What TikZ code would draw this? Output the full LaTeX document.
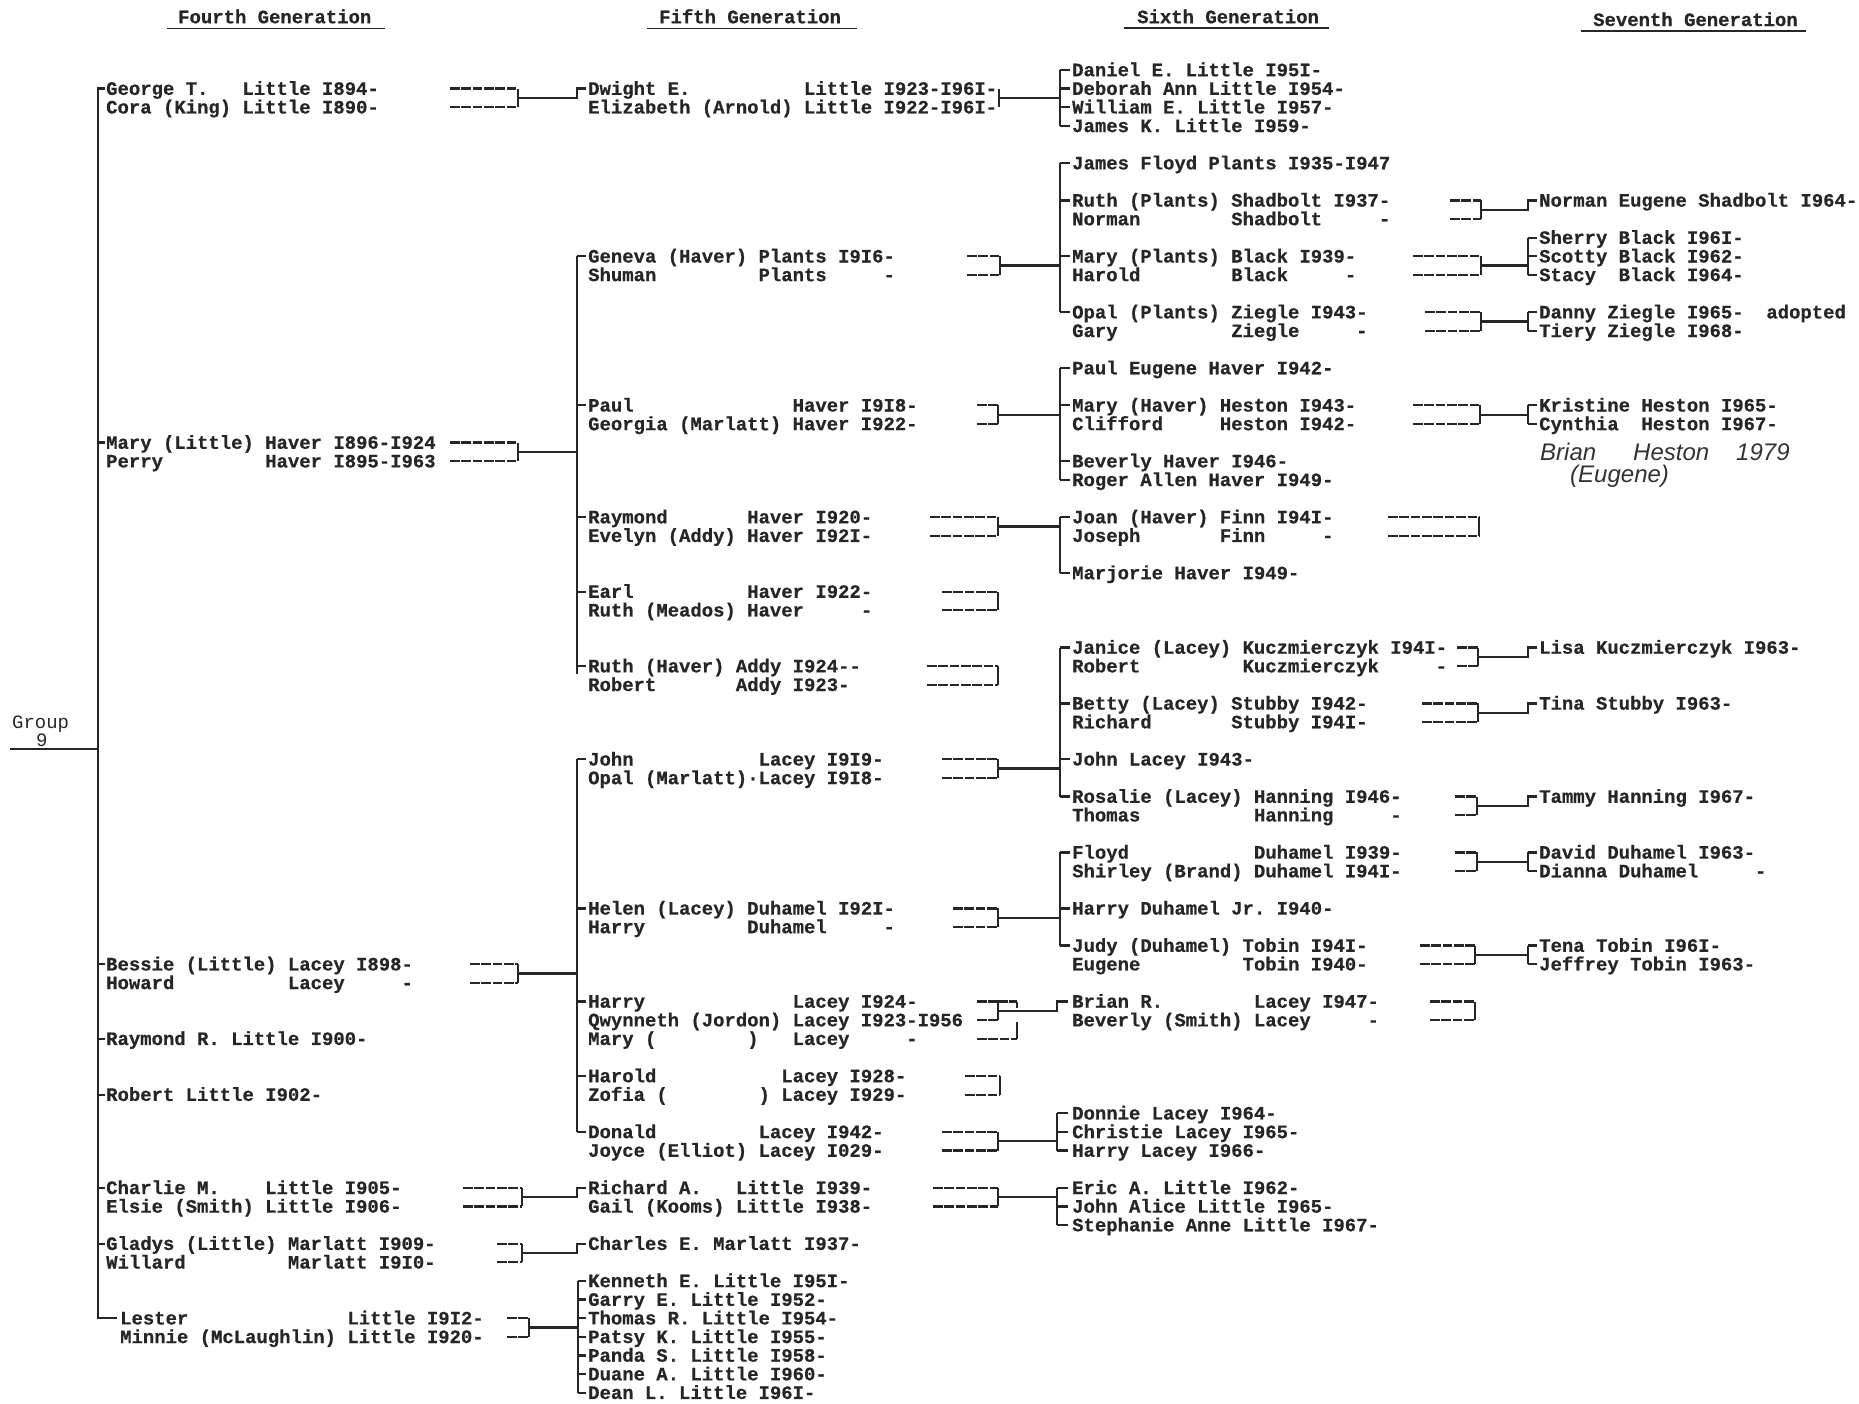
\documentclass[tikz,border=0pt]{standalone}
\usepackage{fontspec}
\newfontfamily\tw[BoldFeatures={FakeBold=0.6}]{Liberation Mono}
\newfontfamily\hand{Liberation Sans}
\definecolor{ink}{HTML}{262626}
\newcommand\R[1]{(70+18.63*(#1))}
\newcommand\SP[1]{\hspace*{#1\fontcharwd\font`0}}
\newcommand\T[4]{\node[txt] (#1) at (#2,{\R{#3}+6.2}) {#4};}
% bracket: dash start, vertical x, top row, bottom row
\newcommand\BR[4]{\draw[dsh] (#1,{\R{#3}}) -- (#2,{\R{#3}});
  \draw[dsh] (#1,{\R{#4}}) -- (#2,{\R{#4}});
  \draw[ln] (#2,{\R{#3}}) -- (#2,{\R{#4}});}
% kids: vertical x, tick end x, top row, bottom row, rows
\newcommand\KIDS[5]{\draw[ln] (#1,{\R{#3}}) -- (#1,{\R{#4}});
  \foreach \k in {#5} {\draw[ln] (#1,{\R{\k}}) -- (#2,{\R{\k}});}}
% link: from x, to x, row (mid)
\newcommand\LINK[3]{\draw[ln] (#1,{\R{#3}}) -- (#2,{\R{#3}});}
% single child: from x, vertical x, tick end, mid row, child row
\newcommand\ONE[5]{\draw[ln] (#1,{\R{#4}}) -- (#2,{\R{#4}}) -- (#2,{\R{#5}}) -- (#3,{\R{#5}});}
\tikzset{
  txt/.style={anchor=base west, inner sep=0pt, text=ink,
    font=\tw\bfseries\fontsize{18.93}{20}\selectfont},
  hdr/.style={txt},
  lbl/.style={anchor=base west, inner sep=0pt, text=ink,
    font=\tw\fontsize{18.93}{20}\selectfont},
  hw/.style={anchor=base west, inner sep=0pt, text=black!80,
    font=\hand\itshape\fontsize{24}{26}\selectfont},
  ln/.style={draw=ink, line width=2.3pt, line join=miter},
  dsh/.style={draw=ink, line width=2.3pt, dash pattern=on 9.5pt off 1.86pt},
  ul/.style={draw=ink, line width=1.8pt}
}
\begin{document}
\frenchspacing
\begin{tikzpicture}[x=1pt,y=-1pt]
\useasboundingbox (0,0) rectangle (1859,1403);
\fill[white] (0,0) rectangle (1859,1403);

% headers
\node[hdr] (h4) at (178,23.2) {Fourth Generation};
\node[hdr] (h5) at (659,23.2) {Fifth Generation};
\node[hdr] (h6) at (1137,23.2) {Sixth Generation};
\node[hdr] (h7) at (1593,26) {Seventh Generation};
\draw[ul] (167,28.5) -- (385,28.5);
\draw[ul] (647,28.5) -- (857,28.5);
\draw[ul] (1124,28) -- (1329,28);
\draw[ul] (1581,31) -- (1806,31);

% group label
\node[lbl] (grp) at (12,728) {Group};
\node[lbl] (g9) at (36,746) {9};
\draw[ln] (10,749) -- (98,749);

% main vertical (4th generation)
\draw[ln] (105,{\R{1}}) -- (98,{\R{1}}) -- (98,{\R{67}}) -- (117,{\R{67}});
\foreach \k in {20,48,52,55,60,63} {\draw[ln] (98,{\R{\k}}) -- (105,{\R{\k}});}

% 4th generation
\T{a1}{106}{1}{George T.\SP{3}Little I894-}
\T{a2}{106}{2}{Cora (King) Little I890-}
\T{a20}{106}{20}{Mary (Little) Haver I896-I924}
\T{a21}{106}{21}{Perry\SP{9}Haver I895-I963}
\T{a48}{106}{48}{Bessie (Little) Lacey I898-}
\T{a49}{106}{49}{Howard\SP{10}Lacey\SP{5}-}
\T{a52}{106}{52}{Raymond R. Little I900-}
\T{a55}{106}{55}{Robert Little I902-}
\T{a60}{106}{60}{Charlie M.\SP{4}Little I905-}
\T{a61}{106}{61}{Elsie (Smith) Little I906-}
\T{a63}{106}{63}{Gladys (Little) Marlatt I909-}
\T{a64}{106}{64}{Willard\SP{9}Marlatt I9I0-}
\T{a67}{120}{67}{Lester\SP{14}Little I9I2-}
\T{a68}{120}{68}{Minnie (McLaughlin) Little I920-}

% 4th -> 5th brackets
\BR{450}{518}{1}{2}
\ONE{518}{577}{586}{1.5}{1}
\BR{450}{518}{20}{21}
\LINK{518}{577}{20.5}
\KIDS{577}{586}{10}{32.4}{10,18,24,28,32}
\BR{470}{518}{48}{49}
\LINK{518}{577}{48.5}
\KIDS{577}{586}{37}{57}{37,45,50,54,57}
\BR{463}{522}{60}{61}
\ONE{522}{577}{586}{60.5}{60}
\BR{497}{522}{63}{64}
\ONE{522}{577}{586}{63.5}{63}
\BR{507}{529}{67}{68}
\LINK{529}{578}{67.5}
\KIDS{578}{586}{65}{71}{65,66,67,68,69,70,71}

% 5th generation
\T{b1}{588}{1}{Dwight E.\SP{10}Little I923-I96I-}
\T{b2}{588}{2}{Elizabeth (Arnold) Little I922-I96I-}
\T{b10}{588}{10}{Geneva (Haver) Plants I9I6-}
\T{b11}{588}{11}{Shuman\SP{9}Plants\SP{5}-}
\T{b18}{588}{18}{Paul\SP{14}Haver I9I8-}
\T{b19}{588}{19}{Georgia (Marlatt) Haver I922-}
\T{b24}{588}{24}{Raymond\SP{7}Haver I920-}
\T{b25}{588}{25}{Evelyn (Addy) Haver I92I-}
\T{b28}{588}{28}{Earl\SP{10}Haver I922-}
\T{b29}{588}{29}{Ruth (Meados) Haver\SP{5}-}
\T{b32}{588}{32}{Ruth (Haver) Addy I924--}
\T{b33}{588}{33}{Robert\SP{7}Addy I923-}
\T{b37}{588}{37}{John\SP{11}Lacey I9I9-}
\T{b38}{588}{38}{Opal (Marlatt)·Lacey I9I8-}
\T{b45}{588}{45}{Helen (Lacey) Duhamel I92I-}
\T{b46}{588}{46}{Harry\SP{9}Duhamel\SP{5}-}
\T{b50}{588}{50}{Harry\SP{13}Lacey I924-}
\T{b51}{588}{51}{Qwynneth (Jordon) Lacey I923-I956}
\T{b52}{588}{52}{Mary (\SP{8})\SP{3}Lacey\SP{5}-}
\T{b54}{588}{54}{Harold\SP{11}Lacey I928-}
\T{b55}{588}{55}{Zofia (\SP{8}) Lacey I929-}
\T{b57}{588}{57}{Donald\SP{9}Lacey I942-}
\T{b58}{588}{58}{Joyce (Elliot) Lacey I029-}
\T{b60}{588}{60}{Richard A.\SP{3}Little I939-}
\T{b61}{588}{61}{Gail (Kooms) Little I938-}
\T{b63}{588}{63}{Charles E. Marlatt I937-}
\T{b65}{588}{65}{Kenneth E. Little I95I-}
\T{b66}{588}{66}{Garry E. Little I952-}
\T{b67}{588}{67}{Thomas R. Little I954-}
\T{b68}{588}{68}{Patsy K. Little I955-}
\T{b69}{588}{69}{Panda S. Little I958-}
\T{b70}{588}{70}{Duane A. Little I960-}
\T{b71}{588}{71}{Dean L. Little I96I-}

% 5th -> 6th brackets
\draw[ln] (999,{\R{1}}) -- (999,{\R{2}});
\LINK{999}{1060}{1.5}
\KIDS{1060}{1070}{0}{3}{0,1,2,3}
\BR{967}{1000}{10}{11}
\LINK{1000}{1060}{10.5}
\KIDS{1060}{1070}{5}{13}{5,7,10,13}
\BR{977}{998}{18}{19}
\LINK{998}{1060}{18.5}
\KIDS{1060}{1070}{16}{22}{16,18,21,22}
\BR{930}{998}{24}{25}
\LINK{998}{1060}{24.5}
\KIDS{1060}{1070}{24}{27}{24,27}
\BR{942}{998}{28}{29}
\BR{927}{998}{32}{33}
\BR{942}{998}{37}{38}
\LINK{998}{1060}{37.5}
\KIDS{1060}{1070}{31}{39}{31,34,37,39}
\BR{953}{998}{45}{46}
\LINK{998}{1060}{45.5}
\KIDS{1060}{1070}{42}{47}{42,45,47}
% Harry / Qwynneth / Mary
\BR{977}{998}{50}{51}
\draw[dsh] (998,{\R{50}}) -- (1017,{\R{50}});
\draw[dsh] (977,{\R{52}}) -- (1017,{\R{52}});
\draw[ln] (1017,{\R{50}}) -- (1017,{\R{50.35}});
\draw[ln] (1017,{\R{51.1}}) -- (1017,{\R{52}});
\ONE{998}{1057}{1068}{50.5}{50}
\BR{965}{1000}{54}{55}
\BR{942}{998}{57}{58}
\LINK{998}{1057}{57.5}
\KIDS{1057}{1068}{56}{58}{56,57,58}
\BR{933}{998}{60}{61}
\LINK{998}{1057}{60.5}
\KIDS{1057}{1068}{60}{62}{60,61,62}

% 6th generation
\T{c0}{1072}{0}{Daniel E. Little I95I-}
\T{c1}{1072}{1}{Deborah Ann Little I954-}
\T{c2}{1072}{2}{William E. Little I957-}
\T{c3}{1072}{3}{James K. Little I959-}
\T{c5}{1072}{5}{James Floyd Plants I935-I947}
\T{c7}{1072}{7}{Ruth (Plants) Shadbolt I937-}
\T{c8}{1072}{8}{Norman\SP{8}Shadbolt\SP{5}-}
\T{c10}{1072}{10}{Mary (Plants) Black I939-}
\T{c11}{1072}{11}{Harold\SP{8}Black\SP{5}-}
\T{c13}{1072}{13}{Opal (Plants) Ziegle I943-}
\T{c14}{1072}{14}{Gary\SP{10}Ziegle\SP{5}-}
\T{c16}{1072}{16}{Paul Eugene Haver I942-}
\T{c18}{1072}{18}{Mary (Haver) Heston I943-}
\T{c19}{1072}{19}{Clifford\SP{5}Heston I942-}
\T{c21}{1072}{21}{Beverly Haver I946-}
\T{c22}{1072}{22}{Roger Allen Haver I949-}
\T{c24}{1072}{24}{Joan (Haver) Finn I94I-}
\T{c25}{1072}{25}{Joseph\SP{7}Finn\SP{5}-}
\T{c27}{1072}{27}{Marjorie Haver I949-}
\T{c31}{1072}{31}{Janice (Lacey) Kuczmierczyk I94I-}
\T{c32}{1072}{32}{Robert\SP{9}Kuczmierczyk\SP{5}-}
\T{c34}{1072}{34}{Betty (Lacey) Stubby I942-}
\T{c35}{1072}{35}{Richard\SP{7}Stubby I94I-}
\T{c37}{1072}{37}{John Lacey I943-}
\T{c39}{1072}{39}{Rosalie (Lacey) Hanning I946-}
\T{c40}{1072}{40}{Thomas\SP{10}Hanning\SP{5}-}
\T{c42}{1072}{42}{Floyd\SP{11}Duhamel I939-}
\T{c43}{1072}{43}{Shirley (Brand) Duhamel I94I-}
\T{c45}{1072}{45}{Harry Duhamel Jr. I940-}
\T{c47}{1072}{47}{Judy (Duhamel) Tobin I94I-}
\T{c48}{1072}{48}{Eugene\SP{9}Tobin I940-}
\T{c50}{1072}{50}{Brian R.\SP{8}Lacey I947-}
\T{c51}{1072}{51}{Beverly (Smith) Lacey\SP{5}-}
\T{c56}{1072}{56}{Donnie Lacey I964-}
\T{c57}{1072}{57}{Christie Lacey I965-}
\T{c58}{1072}{58}{Harry Lacey I966-}
\T{c60}{1072}{60}{Eric A. Little I962-}
\T{c61}{1072}{61}{John Alice Little I965-}
\T{c62}{1072}{62}{Stephanie Anne Little I967-}

% 6th -> 7th brackets
\BR{1450}{1481}{7}{8}
\ONE{1481}{1528}{1537}{7.5}{7}
\BR{1413}{1481}{10}{11}
\LINK{1481}{1528}{10.5}
\KIDS{1528}{1537}{9}{11}{9,10,11}
\BR{1425}{1481}{13}{14}
\LINK{1481}{1528}{13.5}
\KIDS{1528}{1537}{13}{14}{13,14}
\BR{1413}{1480}{18}{19}
\LINK{1480}{1528}{18.5}
\KIDS{1528}{1537}{18}{19}{18,19}
\BR{1388}{1479}{24}{25}
\BR{1457}{1478}{31}{32}
\ONE{1478}{1528}{1537}{31.5}{31}
\BR{1422}{1478}{34}{35}
\ONE{1478}{1528}{1537}{34.5}{34}
\BR{1455}{1477}{39}{40}
\ONE{1477}{1528}{1537}{39.5}{39}
\BR{1455}{1477}{42}{43}
\LINK{1477}{1528}{42.5}
\KIDS{1528}{1537}{42}{43}{42,43}
\BR{1420}{1475}{47}{48}
\LINK{1475}{1528}{47.5}
\KIDS{1528}{1537}{47}{48}{47,48}
\BR{1430}{1475}{50}{51}

% 7th generation
\T{d7}{1539}{7}{Norman Eugene Shadbolt I964-}
\T{d9}{1539}{9}{Sherry Black I96I-}
\T{d10}{1539}{10}{Scotty Black I962-}
\T{d11}{1539}{11}{Stacy\SP{2}Black I964-}
\T{d13}{1539}{13}{Danny Ziegle I965-\SP{2}adopted}
\T{d14}{1539}{14}{Tiery Ziegle I968-}
\T{d18}{1539}{18}{Kristine Heston I965-}
\T{d19}{1539}{19}{Cynthia\SP{2}Heston I967-}
\T{d31}{1539}{31}{Lisa Kuczmierczyk I963-}
\T{d34}{1539}{34}{Tina Stubby I963-}
\T{d39}{1539}{39}{Tammy Hanning I967-}
\T{d42}{1539}{42}{David Duhamel I963-}
\T{d43}{1539}{43}{Dianna Duhamel\SP{5}-}
\T{d47}{1539}{47}{Tena Tobin I96I-}
\T{d48}{1539}{48}{Jeffrey Tobin I963-}

% handwritten note
\node[hw] (hw1) at (1540,460) {Brian};
\node[hw] (hw2) at (1633,460) {Heston};
\node[hw] (hw3) at (1736,460) {1979};
\node[hw] (hw4) at (1570,482) {(Eugene)};
\end{tikzpicture}
\end{document}
